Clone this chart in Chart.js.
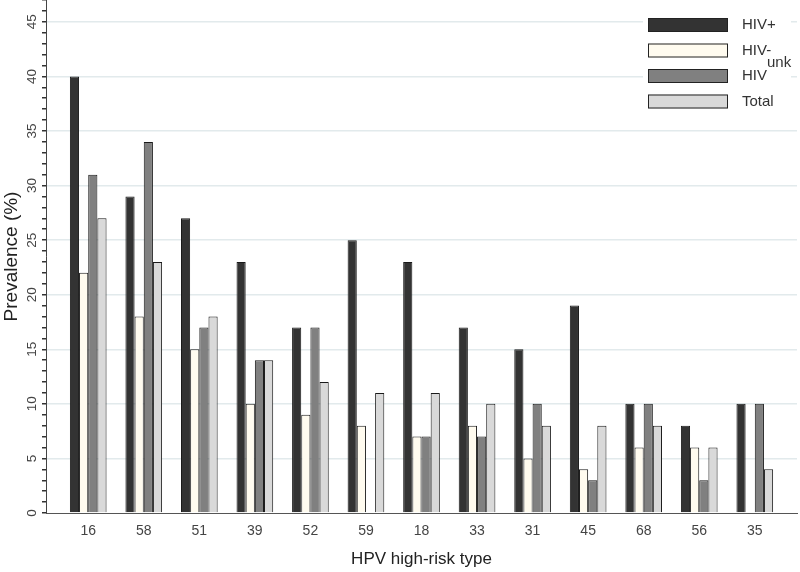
<!DOCTYPE html>
<html>
<head>
<meta charset="utf-8">
<script src="https://cdn.jsdelivr.net/npm/chart.js@4.4.0/dist/chart.umd.min.js"></script>
<style>
    html, body { margin: 0; padding: 0; background: #fff; }
    #wrap { width: 800px; height: 572px; }
</style>
</head>
<body>
<div id="wrap"><canvas id="hpvChart"></canvas></div>
<script>
// HPV types, ordered as in the figure
const hpvTypes = ['16', '58', '51', '39', '52', '59', '18', '33', '31', '45', '68', '56', '35'];

// Prevalence (%) per group
const hivPositive = [40, 29, 27, 23, 17, 25, 23, 17, 15, 19, 10, 8, 10];
const hivNegative = [22, 18, 15, 10, 9, 8, 7, 8, 5, 4, 6, 6, 0];
const hivUnknown  = [31, 34, 17, 14, 17, 0, 7, 7, 10, 3, 10, 3, 10];
const total       = [27, 23, 18, 14, 12, 11, 11, 10, 8, 8, 8, 6, 4];

const seriesNames = ['HIV+', 'HIV-', 'HIV^unk', 'Total'];
const seriesColors = ['#333333', '#fffbef', '#808080', '#d9d9d9'];

// y axis: 0..47, labelled every 5
const yMax = 47;
const yLabels = [0, 5, 10, 15, 20, 25, 30, 35, 40, 45];

const FONT = '"Liberation Sans", Arial, sans-serif';

const toPoints = arr => arr.map((v, i) => ({ x: i, y: v }));

// Rotated y tick labels, centred on their ticks
const yLabelPlugin = {
    id: 'yLabels',
    afterDraw(chart) {
        const ctx = chart.ctx;
        const y = chart.scales.y;
        ctx.save();
        ctx.fillStyle = '#444';
        ctx.font = '13.5px ' + FONT;
        ctx.textAlign = 'center';
        ctx.textBaseline = 'middle';
        yLabels.forEach(v => {
            const py = y.getPixelForValue(v);
            ctx.save();
            ctx.translate(y.right - 14, py);
            ctx.rotate(-Math.PI / 2);
            ctx.fillText(String(v), 0, 0);
            ctx.restore();
        });
        ctx.restore();
    }
};

// Legend drawn by hand so the superscript can be shown
const legendPlugin = {
    id: 'customLegend',
    afterDraw(chart) {
        const ctx = chart.ctx;
        const right = chart.chartArea.right;
        const top = chart.chartArea.top;
        ctx.save();
        ctx.fillStyle = '#ffffff';
        ctx.fillRect(right - 154, top + 8, 148, 104);
        chart.data.datasets.forEach((ds, i) => {
            const bx = right - 149;
            const by = top + 18 + i * 25.5;
            ctx.fillStyle = ds.backgroundColor;
            ctx.fillRect(bx, by, 80, 14);
            ctx.strokeStyle = '#222';
            ctx.lineWidth = 1;
            ctx.strokeRect(bx + 0.5, by + 0.5, 79, 13);

            ctx.fillStyle = '#333';
            ctx.font = '15px ' + FONT;
            ctx.textBaseline = 'middle';
            ctx.textAlign = 'left';
            const parts = ds.label.split('^');
            ctx.fillText(parts[0], bx + 94, by + 7);
            if (parts[1]) {
                const w = ctx.measureText(parts[0]).width;
                ctx.fillText(parts[1], bx + 94 + w, by - 6);
            }
        });
        ctx.restore();
    }
};

const datasets = [hivPositive, hivNegative, hivUnknown, total].map((arr, i) => ({
    label: seriesNames[i],
    data: toPoints(arr),
    backgroundColor: seriesColors[i],
    borderColor: '#1a1a1a',
    borderWidth: 1,
    borderSkipped: 'bottom',
    categoryPercentage: 0.66,
    barPercentage: 1.0
}));

const ctx = document.getElementById('hpvChart').getContext('2d');
new Chart(ctx, {
    type: 'bar',
    data: { datasets },
    plugins: [yLabelPlugin, legendPlugin],
    options: {
        responsive: true,
        maintainAspectRatio: false,
        animation: false,
        layout: { padding: { top: 0, right: 3, bottom: 0, left: 0 } },
        plugins: {
            legend: { display: false },
            tooltip: { enabled: false }
        },
        scales: {
            x: {
                type: 'linear',
                offset: false,
                min: -0.76,
                max: hpvTypes.length - 1 + 0.76,
                afterBuildTicks: scale => {
                    scale.ticks = hpvTypes.map((t, i) => ({ value: i }));
                },
                afterFit: scale => { scale.height = 59; },
                grid: { display: false, drawTicks: false },
                border: { color: '#555', width: 1 },
                ticks: {
                    autoSkip: false,
                    maxRotation: 0,
                    padding: 10,
                    color: '#444',
                    font: { family: FONT, size: 14 },
                    callback: v => hpvTypes[v]
                },
                title: {
                    display: true,
                    text: 'HPV high-risk type',
                    color: '#222',
                    padding: { top: 1, bottom: 2 },
                    font: { family: FONT, size: 17 }
                }
            },
            y: {
                min: 0,
                max: yMax,
                afterFit: scale => { scale.width = 46; },
                border: { color: '#444', width: 1 },
                grid: {
                    color: c => (c.tick && c.tick.value % 5 === 0 && c.tick.value > 0) ? '#e2eaec' : 'rgba(0,0,0,0)',
                    tickColor: '#333',
                    tickLength: 4,
                    lineWidth: 1.5
                },
                ticks: {
                    stepSize: 1,
                    autoSkip: false,
                    display: false
                },
                title: {
                    display: true,
                    text: 'Prevalence (%)',
                    color: '#222',
                    padding: { top: 0, bottom: 0 },
                    font: { family: FONT, size: 19 }
                }
            }
        }
    }
});
</script>
</body>
</html>
